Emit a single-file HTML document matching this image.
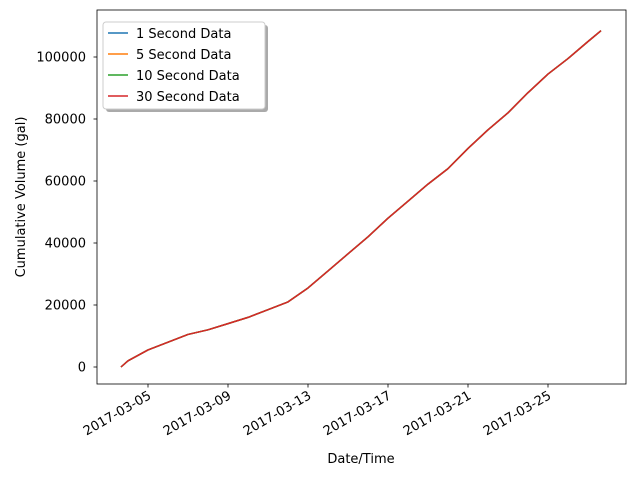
<!DOCTYPE html>
<html><head><meta charset="utf-8"><style>
body{margin:0;background:#fff;}
text{font-family:"DejaVu Sans","Liberation Sans",sans-serif;font-size:13px;fill:#000;}
</style></head><body>
<svg id="chart" width="640" height="480" viewBox="0 0 640 480">
<rect x="0" y="0" width="640" height="480" fill="#fff"/>
<g id="plot"></g>
<rect x="97" y="10" width="529" height="374" fill="none" stroke="#000" stroke-width="0.8"/>
<text x="25" y="197" transform="rotate(-90 25 197)" text-anchor="middle">Cumulative Volume (gal)</text>
<text x="361" y="463" text-anchor="middle">Date/Time</text>
<g>
<rect x="106" y="25" width="162" height="87" rx="3" fill="#555" opacity="0.5"/>
<rect x="103" y="22" width="162" height="87" rx="3" fill="#fff" stroke="#ccc"/>
<g id="legend"></g>
</g>
</svg>
<script>
const days = [3.65,4,5,6,7,8,9,10,11,12,13,14,15,16,17,18,19,20,21,22,23,24,25,26,27,27.65];
const volume1s = [0,2000,5500,8000,10500,12000,14000,16000,18500,21000,25500,31000,36500,42000,48000,53500,59000,64000,70500,76500,82000,88500,94500,99500,105000,108500];
const volume5s = volume1s.slice();
const volume10s = volume1s.slice();
const volume30s = volume1s.slice();
const seriesNames = ["1 Second Data","5 Second Data","10 Second Data","30 Second Data"];
const yTicks = [0,20000,40000,60000,80000,100000];
const xTickDays = [5,9,13,17,21,25];
const xTickLabels = ["2017-03-05","2017-03-09","2017-03-13","2017-03-17","2017-03-21","2017-03-25"];

const colors = ["#1f77b4","#ff7f0e","#2ca02c","#d62728"];
const NS="http://www.w3.org/2000/svg";
const xs = d => 148 + (d-5)*20;
const ys = v => 367 - v*310/100000;
const plot=document.getElementById('plot');
function mk(tag,attrs,parent){const e=document.createElementNS(NS,tag);for(const k in attrs)e.setAttribute(k,attrs[k]);parent.appendChild(e);return e;}
yTicks.forEach(v=>{
  const g=mk('g',{},plot);
  
  
  mk('line',{x1:97,x2:93.5,y1:ys(v),y2:ys(v),stroke:'#000','stroke-width':0.8},g);
  const t=mk('text',{x:86,y:ys(v)+4.5,'text-anchor':'end'},g);t.textContent=v;
});
xTickDays.forEach((d,i)=>{
  const g=mk('g',{},plot);
  
  
  mk('line',{x1:xs(d),x2:xs(d),y1:384,y2:387.5,stroke:'#000','stroke-width':0.8},g);
  const t=mk('text',{x:xs(d)+4,y:398,'text-anchor':'end',transform:`rotate(-30 ${xs(d)+4} 398)`},g);t.textContent=xTickLabels[i];
});
[volume1s,volume5s,volume10s,volume30s].forEach((s,i)=>{
  const p=mk('polyline',{points:s.map((v,j)=>xs(days[j])+','+ys(v)).join(' '),fill:'none',stroke:colors[i],'stroke-width':1.5,'stroke-linejoin':'round'},plot);
  
  
});
const lg=document.getElementById('legend');
seriesNames.forEach((n,i)=>{
  const g=mk('g',{},lg);
  
  
  const y=33+i*21;
  mk('line',{x1:108,x2:128,y1:y,y2:y,stroke:colors[i],'stroke-width':1.5},g);
  const t=mk('text',{x:136,y:y+5},g);t.textContent=n;
});
</script>
</body></html>
